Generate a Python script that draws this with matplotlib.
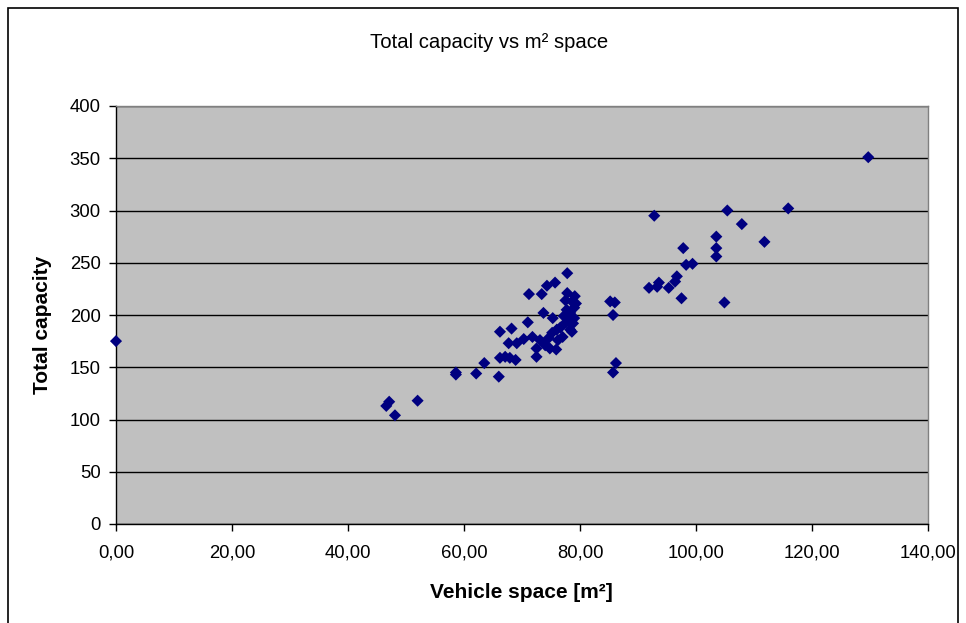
import matplotlib
matplotlib.use("Agg")
import matplotlib.pyplot as plt
from matplotlib.patches import Rectangle
from matplotlib.ticker import FuncFormatter, MultipleLocator

plt.rcParams['font.family'] = ['Liberation Sans', 'DejaVu Sans']

vehicle_space = [
    0.0, 46.6, 47.1, 48.1, 52.0, 58.6, 58.6, 62.1, 63.5, 66.0,
    66.2, 66.2, 67.1, 67.9, 68.9, 67.7, 68.2, 69.1, 70.3, 71.0,
    71.2, 71.8, 72.5, 72.5, 73.1, 73.4, 73.7, 74.3, 74.0, 74.6,
    74.8, 75.2, 75.3, 75.7, 75.9, 76.0, 76.2, 76.6, 77.0, 77.2,
    77.6, 77.7, 77.8, 77.8, 77.5, 78.0, 78.3, 78.3, 78.6, 78.6,
    78.8, 79.0, 79.1, 79.3, 79.0, 85.2, 86.0, 85.7, 86.2, 85.7,
    91.9, 92.8, 93.3, 93.6, 95.3, 96.4, 96.7, 97.5, 97.8, 98.3,
    99.4, 103.5, 103.5, 103.5, 104.9, 105.4, 107.9, 111.8, 115.9, 129.7,
]
total_capacity = [
    175, 113, 117, 104, 118, 145, 143, 144, 154, 141,
    159, 184, 160, 159, 157, 173, 187, 173, 177, 193,
    220, 179, 168, 160, 176, 220, 202, 228, 171, 178,
    168, 183, 197, 231, 167, 186, 176, 188, 179, 199,
    193, 205, 240, 221, 214, 195, 202, 186, 184, 213,
    192, 197, 218, 211, 207, 213, 212, 200, 154, 145,
    226, 295, 227, 231, 226, 232, 237, 216, 264, 248,
    249, 275, 264, 256, 212, 300, 287, 270, 302, 351,
]

title = "Total capacity vs m² space"
x_label = "Vehicle space [m²]"
y_label = "Total capacity"

fig = plt.figure(figsize=(9.66, 6.23), dpi=100)
fig.patch.set_facecolor('white')
fig.patches.append(Rectangle((8/966, -0.05), 950/966, (615/623) + 0.05,
                             transform=fig.transFigure, fill=False,
                             edgecolor='black', linewidth=1.2))

ax = fig.add_axes([116/966, 99/623, 812/966, 418/623])
ax.set_facecolor('#C0C0C0')
ax.scatter(vehicle_space, total_capacity, marker='D', s=38, color='#000080',
           edgecolors='none', zorder=3, clip_on=False)

ax.set_xlim(0, 140)
ax.set_ylim(0, 400)
ax.xaxis.set_major_locator(MultipleLocator(20))
ax.yaxis.set_major_locator(MultipleLocator(50))
ax.xaxis.set_major_formatter(FuncFormatter(lambda v, p: f"{v:.2f}".replace('.', ',')))
ax.yaxis.set_major_formatter(FuncFormatter(lambda v, p: f"{int(v)}"))
ax.grid(axis='y', color='black', linewidth=1.0, zorder=1)
ax.set_axisbelow(True)

for s in ['top', 'right']:
    ax.spines[s].set_color('#808080')
    ax.spines[s].set_linewidth(1.0)
for s in ['left', 'bottom']:
    ax.spines[s].set_color('black')
    ax.spines[s].set_linewidth(1.0)

ax.tick_params(axis='both', direction='out', length=5, width=1, colors='black',
               labelsize=13.3)
ax.tick_params(axis='x', pad=10)
ax.tick_params(axis='y', pad=6)

ax.set_xlabel(x_label, fontsize=15, fontweight='bold', va='center')
ax.xaxis.set_label_coords(0.499, -0.163)
ax.set_ylabel(y_label, fontsize=15, fontweight='bold', va='center')
ax.yaxis.set_label_coords(-0.091, 0.476)
fig.text(489/966, 1 - 43/623, title, ha='center', va='center', fontsize=14.6)

fig.savefig('out.png', dpi=100)
